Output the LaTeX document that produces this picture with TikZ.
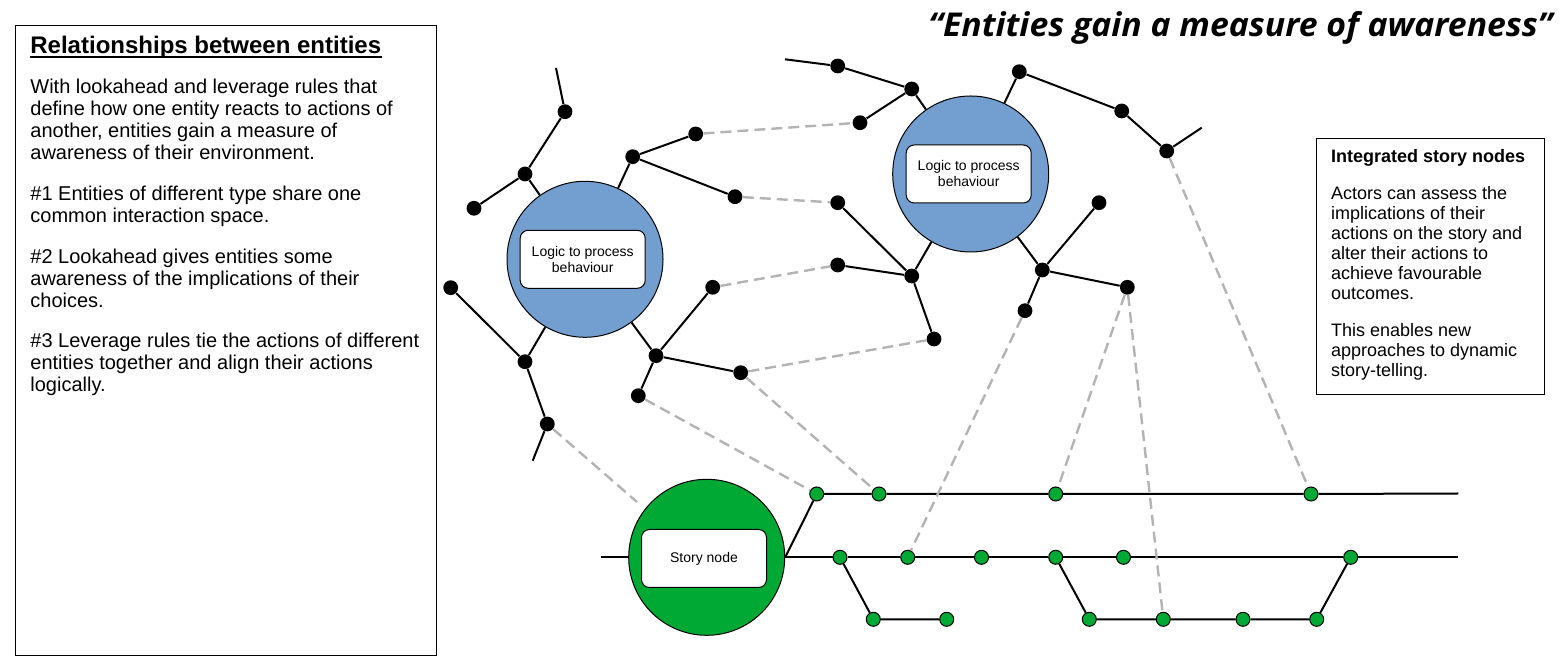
\documentclass[tikz,border=0pt]{standalone}
\usepackage{fontspec}
\setmainfont{Liberation Sans}
\newfontfamily\titlefont[FakeStretch=1.03]{Open Sans}
\usetikzlibrary{positioning}
\definecolor{entityblue}{HTML}{729FCF}
\definecolor{storygreen}{HTML}{00A933}
\definecolor{linkgray}{HTML}{B3B3B3}

\begin{document}
\begin{tikzpicture}[x=0.5pt, y=-0.5pt,
    dot/.style={circle, fill=black, inner sep=0pt, minimum size=7.4pt},
    gdot/.style={circle, draw=black, line width=0.5pt, fill=storygreen, inner sep=0pt, minimum size=7pt},
    entity/.style={circle, draw=black, line width=0.5pt, minimum size=78pt, inner sep=0pt},
    logic/.style={draw=black, line width=0.5pt, fill=white, rounded corners=4pt, minimum width=62.5pt, minimum height=29pt, align=center, font=\fontsize{7}{8}\selectfont},
    tie/.style={line width=1pt},
    aware/.style={draw=linkgray, line width=1.2pt, dash pattern=on 5.5pt off 3pt},
    panel/.style={draw=black, line width=0.5pt, anchor=north west, inner sep=0pt},
    txt/.style={anchor=base west, inner sep=0pt, align=left}]

\useasboundingbox (0,0) rectangle (1563,672);

% left panel (multi-line texts sit on the baseline of their last line)
\node[panel, minimum width=210.5pt, minimum height=315pt] (relbox) at (15,25) {};
\node[txt, font=\fontsize{12}{14}\selectfont\bfseries] (relttl) at (30,54) {Relationships between entities};
\draw[line width=0.8pt] ([yshift=-1.6pt]relttl.base west) -- ([yshift=-1.6pt]relttl.base east);
\node[txt, font=\fontsize{10}{11}\selectfont] (reltxt) at (30,391.7) {With lookahead and leverage rules that\\
define how one entity reacts to actions of\\
another, entities gain a measure of\\
awareness of their environment.\\[9.3pt]
\#1 Entities of different type share one\\
common interaction space.\\[9.3pt]
\#2 Lookahead gives entities some\\
awareness of the implications of their\\
choices.\\[9.3pt]
\#3 Leverage rules tie the actions of different\\
entities together and align their actions\\
logically.};

% headline
\node[anchor=base west, inner sep=0pt, font=\titlefont\fontsize{16.4}{18}\selectfont\bfseries\itshape] (headline) at (928,37) {“Entities gain a measure of awareness”};

% right panel
\node[panel, minimum width=114pt, minimum height=128pt] (storybox) at (1316,138) {};
\node[txt, font=\fontsize{9}{10}\selectfont\bfseries] (storyttl) at (1330.7,162.3) {Integrated story nodes};
\node[txt, font=\fontsize{9}{10}\selectfont] (storytxt) at (1330.7,376.7) {Actors can assess the\\
implications of their\\
actions on the story and\\
alter their actions to\\
achieve favourable\\
outcomes.\\[8.7pt]
This enables new\\
approaches to dynamic\\
story-telling.};

% entities
\node[entity, fill=entityblue] (ent1) at (585,259.3) {};
\node[logic] (logic1) at (582.7,259.3) {Logic to process\\behaviour};
\node[entity, fill=entityblue] (ent2) at (970.7,174) {};
\node[logic] (logic2) at (968.7,174) {Logic to process\\behaviour};
\node[entity, fill=storygreen] (story) at (706.7,557.3) {};
\node[logic] (storylbl) at (704,558.5) {Story node};

% entity 1 branches
\node[dot] (a1) at (565,111.7) {};
\node[dot] (a2) at (525,174) {};
\node[dot] (a3) at (474,208.3) {};
\node[dot] (b1) at (632.7,156.7) {};
\node[dot] (b2) at (695.7,134) {};
\node[dot] (b3) at (735,196.7) {};
\node[dot] (c1) at (525,361.7) {};
\node[dot] (c2) at (450.7,287.7) {};
\node[dot] (c3) at (547.3,424) {};
\node[dot] (d1) at (656,355.7) {};
\node[dot] (d2) at (712.7,287.3) {};
\node[dot] (d3) at (740.7,372.7) {};
\node[dot] (d4) at (638.3,395.7) {};

% entity 2 branches
\node[dot] (e1) at (837.7,66) {};
\node[dot] (e2) at (911.7,89) {};
\node[dot] (e3) at (860,122.7) {};
\node[dot] (f1) at (1019.3,71.7) {};
\node[dot] (f2) at (1121.7,111) {};
\node[dot] (f3) at (1166.7,151) {};
\node[dot] (g1) at (837.7,202.7) {};
\node[dot] (g2) at (911.7,276) {};
\node[dot] (g3) at (837.7,265) {};
\node[dot] (g4) at (934,339) {};
\node[dot] (h1) at (1042.3,270) {};
\node[dot] (h2) at (1099,202.7) {};
\node[dot] (h3) at (1127.3,287.3) {};
\node[dot] (h4) at (1025,310.7) {};

\coordinate (aend) at (556,68);
\coordinate (cend) at (532.7,460.7);
\coordinate (eend) at (785,59.3);
\coordinate (fend) at (1201.7,127.7);
\coordinate (cstop) at (637,502);

% story lines
\node[gdot] (r1a) at (816.7,494) {};
\node[gdot] (r1b) at (879,494) {};
\node[gdot] (r1c) at (1055.7,494) {};
\node[gdot] (r1d) at (1311,494) {};
\node[gdot] (r2a) at (840,557.3) {};
\node[gdot] (r2b) at (907.7,557.3) {};
\node[gdot] (r2c) at (981.5,557.3) {};
\node[gdot] (r2d) at (1055.7,557.3) {};
\node[gdot] (r2e) at (1123.5,557.3) {};
\node[gdot] (r2f) at (1350.7,557.3) {};
\node[gdot] (r3a) at (873.3,619.3) {};
\node[gdot] (r3b) at (946.7,619.3) {};
\node[gdot] (r3c) at (1089.3,619.3) {};
\node[gdot] (r3d) at (1163.3,619.3) {};
\node[gdot] (r3e) at (1243,619.3) {};
\node[gdot] (r3f) at (1316.7,619.3) {};

\coordinate (storyin) at (600.7,557.3);
\coordinate (r1end) at (1458.3,493.5);
\coordinate (r2end) at (1458.3,557.3);

\draw[tie] (aend) -- (a1) -- (a2) -- (ent1);
\draw[tie] (a2) -- (a3);
\draw[tie] (ent1) -- (b1) -- (b2);
\draw[tie] (b1) -- (b3);
\draw[tie] (ent1) -- (c1) -- (c2);
\draw[tie] (c1) -- (c3) -- (cend);
\draw[tie] (ent1) -- (d1) -- (d2);
\draw[tie] (d1) -- (d3);
\draw[tie] (d1) -- (d4);

\draw[tie] (eend) -- (e1) -- (e2) -- (ent2);
\draw[tie] (e2) -- (e3);
\draw[tie] (ent2) -- (f1) -- (f2) -- (f3) -- (fend);
\draw[tie] (ent2) -- (g2) -- (g1);
\draw[tie] (g2) -- (g3);
\draw[tie] (g2) -- (g4);
\draw[tie] (ent2) -- (h1) -- (h2);
\draw[tie] (h1) -- (h3);
\draw[tie] (h1) -- (h4);

\draw[tie] (storyin) -- (story);
\draw[tie] (story.east) -- (r1a) -- (r1b) -- (r1c) -- (r1d) -- (r1end);
\draw[tie] (story.east) -- (r2a) -- (r2b) -- (r2c) -- (r2d) -- (r2e) -- (r2f) -- (r2end);
\draw[tie] (r2a) -- (r3a) -- (r3b);
\draw[tie] (r2d) -- (r3c) -- (r3d) -- (r3e) -- (r3f) -- (r2f);

% lookahead / leverage links
\draw[aware] (b2) -- (e3);
\draw[aware] (b3) -- (g1);
\draw[aware] (d2) -- (g3);
\draw[aware] (d3) -- (g4);
\draw[aware] (d3) -- (r1b);
\draw[aware] (d4) -- (r1a);
\draw[aware] (c3) -- (cstop);
\draw[aware] (h4) -- (r2b);
\draw[aware] (h3) -- (r1c);
\draw[aware] (h3) -- (r3d);
\draw[aware] (f3) -- (r1d);

\end{tikzpicture}
\end{document}
